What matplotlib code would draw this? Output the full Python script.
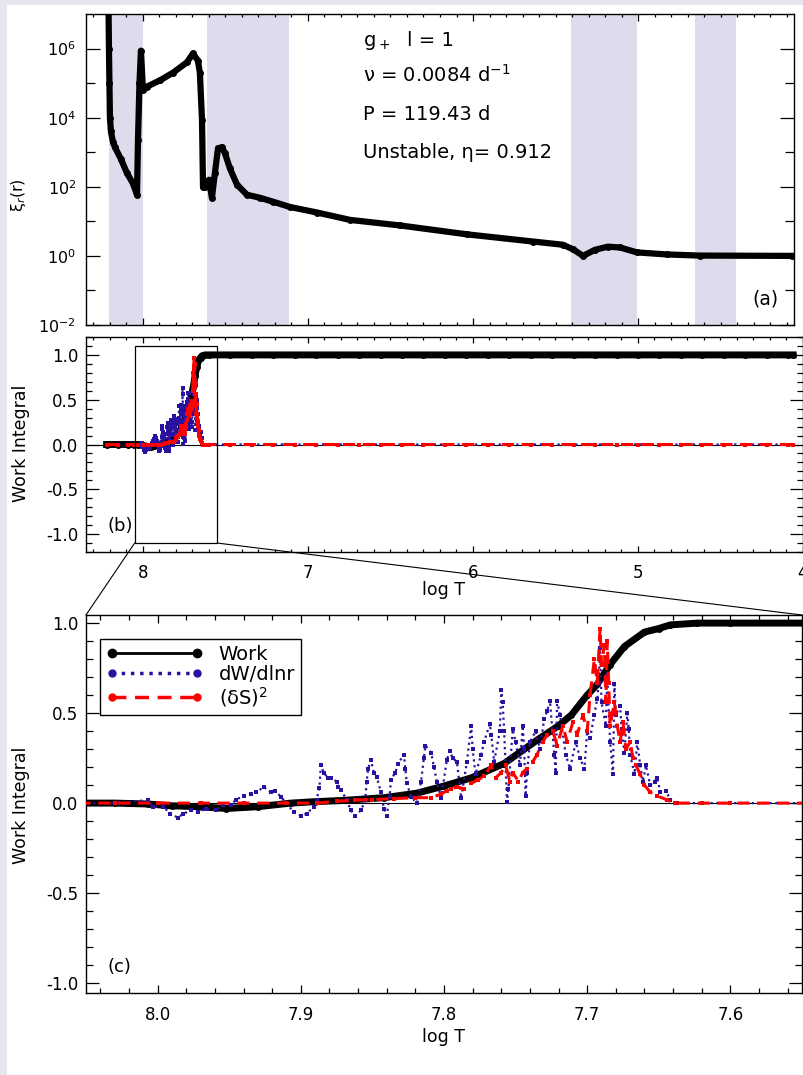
import numpy as np
import matplotlib
matplotlib.use('Agg')
import matplotlib.pyplot as plt
from matplotlib.patches import Rectangle, ConnectionPatch
from matplotlib.lines import Line2D
from matplotlib.ticker import MultipleLocator, FixedLocator, FormatStrFormatter, NullFormatter, FuncFormatter

plt.rcParams['font.family'] = ['DejaVu Sans']
plt.rcParams['axes.unicode_minus'] = False

# ---------------- panel (a): radial displacement ----------------
xi_logT = [8.209, 8.206, 8.203, 8.200, 8.194, 8.182, 8.170, 8.133, 8.097, 8.061,
           8.036, 8.030, 8.021, 8.012, 8.000, 7.976, 7.897, 7.818, 7.733, 7.697,
           7.667, 7.655, 7.642, 7.636, 7.624, 7.600, 7.582, 7.564, 7.545, 7.521,
           7.503, 7.473, 7.430, 7.370, 7.291, 7.212, 7.109, 6.945, 6.745, 6.442,
           6.036, 5.636, 5.455, 5.394, 5.333, 5.261, 5.182, 5.109, 5.006, 4.824,
           4.624, 4.067]
xi_amp = [3.2e7, 1.0e6, 1.0e5, 1.0e4, 4.0e3, 2.0e3, 1.4e3, 6.3e2, 2.5e2, 1.26e2,
          59, 2.2e3, 1.0e5, 8.7e5, 6.3e4, 7.9e4, 1.2e5, 2.0e5, 4.0e5, 7.2e5,
          4.5e5, 2.0e5, 8.5e3, 100, 100, 160, 48, 250, 1.3e3, 1.4e3,
          930, 340, 115, 59, 48, 37, 26, 18, 11, 7.6,
          4.2, 2.6, 2.1, 1.55, 1.0, 1.5, 1.85, 1.75, 1.26, 1.1,
          1.02, 1.0]
bands = [(8.206, 8.000), (7.612, 7.115), (5.406, 5.006), (4.655, 4.406)]
yticks_a = [1e-2, 1e0, 1e2, 1e4, 1e6]
yminor_a = [1e-1, 1e1, 1e3, 1e5]
info_lines = [r'P = 119.43 d', r'Unstable, η= 0.912']

# ---------------- panels (b),(c): work integral ----------------
tail_logT = [7.60, 7.47, 7.34, 7.21, 7.08, 6.95, 6.82, 6.69, 6.56, 6.43,
             6.30, 6.17, 6.04, 5.91, 5.78, 5.65, 5.52, 5.39, 5.26, 5.13,
             5.00, 4.87, 4.74, 4.61, 4.48, 4.35, 4.22, 4.09, 4.06]

work_logT = [8.22, 8.15, 8.09, 8.052, 8.030, 8.007, 7.990, 7.972, 7.952, 7.930,
             7.907, 7.890, 7.870, 7.842, 7.819, 7.800, 7.781, 7.758, 7.735, 7.720,
             7.711, 7.700, 7.693, 7.684, 7.674, 7.660, 7.650, 7.642, 7.623]
work_val = [0.0, 0.0, 0.0, 0.0, 0.0, -0.005, -0.015, -0.02, -0.03, -0.02,
            0.0, 0.008, 0.015, 0.03, 0.055, 0.095, 0.14, 0.22, 0.35, 0.43,
            0.49, 0.60, 0.66, 0.77, 0.87, 0.95, 0.97, 0.99, 1.0]
work_tail = [1.0, 1.0, 1.0, 1.0, 1.0, 1.0, 1.0, 1.0, 1.0, 1.0,
             1.0, 1.0, 1.0, 1.0, 1.0, 1.0, 1.0, 1.0, 1.0, 1.0,
             1.0, 1.0, 1.0, 1.0, 1.0, 1.0, 1.0, 1.0, 1.0]

dw_logT = [8.22, 8.15, 8.09, 8.052, 8.028, 8.007, 8.003, 7.996, 7.991, 7.986,
           7.982, 7.977, 7.972, 7.966, 7.959, 7.954, 7.949, 7.945, 7.940, 7.935,
           7.931, 7.926, 7.921, 7.918, 7.914, 7.910, 7.905, 7.900, 7.896, 7.891,
           7.889, 7.887, 7.886, 7.884, 7.881, 7.879, 7.875, 7.874, 7.872, 7.868,
           7.865, 7.862, 7.858, 7.855, 7.854, 7.853, 7.851, 7.849, 7.847, 7.844,
           7.842, 7.840, 7.838, 7.837, 7.834, 7.832, 7.828, 7.827, 7.826, 7.823,
           7.819, 7.816, 7.814, 7.813, 7.809, 7.807, 7.805, 7.802, 7.798, 7.796,
           7.794, 7.791, 7.788, 7.784, 7.781, 7.780, 7.778, 7.774, 7.772, 7.768,
           7.767, 7.765, 7.761, 7.760, 7.759, 7.758, 7.756, 7.755, 7.752, 7.750,
           7.747, 7.745, 7.744, 7.743, 7.742, 7.740, 7.736, 7.733, 7.730, 7.728,
           7.726, 7.723, 7.722, 7.721, 7.719, 7.715, 7.712, 7.708, 7.705, 7.702,
           7.700, 7.698, 7.695, 7.693, 7.692, 7.691, 7.690, 7.687, 7.686, 7.684,
           7.682, 7.681, 7.680, 7.677, 7.676, 7.674, 7.672, 7.671, 7.670, 7.667,
           7.665, 7.663, 7.661, 7.659, 7.656, 7.653, 7.651, 7.649, 7.645, 7.642,
           7.637, 7.620]
dw_val = [0.0, 0.0, 0.0, 0.0, 0.0, 0.017, -0.02, -0.02, -0.06, -0.08,
          -0.06, -0.04, -0.05, -0.03, -0.04, -0.01, -0.01, 0.02, 0.04, 0.05,
          0.06, 0.09, 0.06, 0.07, 0.035, 0.0, -0.05, -0.07, -0.06, -0.02,
          0.017, 0.085, 0.21, 0.17, 0.14, 0.14, 0.12, 0.09, 0.075, 0.017,
          -0.04, -0.07, -0.04, 0.017, 0.12, 0.19, 0.24, 0.17, 0.145, 0.06,
          -0.03, -0.07, 0.035, 0.13, 0.17, 0.22, 0.27, 0.19, 0.11, 0.035,
          0.0, 0.12, 0.25, 0.32, 0.28, 0.20, 0.12, 0.03, 0.24, 0.29,
          0.25, 0.23, 0.027, 0.23, 0.43, 0.30, 0.16, 0.27, 0.34, 0.44,
          0.38, 0.23, 0.40, 0.63, 0.56, 0.40, 0.007, 0.08, 0.41, 0.34,
          0.21, 0.43, 0.30, 0.04, 0.17, 0.34, 0.40, 0.30, 0.47, 0.51,
          0.57, 0.27, 0.17, 0.57, 0.49, 0.27, 0.19, 0.34, 0.25, 0.19,
          0.40, 0.36, 0.49, 0.58, 0.67, 0.86, 0.56, 0.43, 0.71, 0.34,
          0.16, 0.66, 0.49, 0.54, 0.41, 0.28, 0.50, 0.41, 0.27, 0.16,
          0.34, 0.21, 0.12, 0.21, 0.10, 0.12, 0.14, 0.06, 0.07, 0.017,
          0.0, 0.0]

ds_logT = [8.22, 8.15, 8.09, 8.052, 8.030, 8.000, 7.970, 7.940, 7.910, 7.889,
           7.875, 7.862, 7.850, 7.835, 7.820, 7.809, 7.802, 7.798, 7.795, 7.791,
           7.786, 7.781, 7.776, 7.772, 7.767, 7.764, 7.760, 7.757, 7.754, 7.752,
           7.748, 7.745, 7.742, 7.738, 7.735, 7.731, 7.728, 7.724, 7.721, 7.717,
           7.714, 7.710, 7.707, 7.703, 7.700, 7.698, 7.695, 7.693, 7.691, 7.690,
           7.688, 7.687, 7.686, 7.685, 7.684, 7.681, 7.679, 7.677, 7.675, 7.673,
           7.670, 7.668, 7.666, 7.663, 7.660, 7.656, 7.651, 7.644, 7.639, 7.620]
ds_val = [0.0, 0.0, 0.0, 0.0, 0.0, 0.0, 0.0, 0.0, 0.0, 0.0,
          0.01, 0.017, 0.02, 0.025, 0.03, 0.03, 0.05, 0.07, 0.08, 0.09,
          0.08, 0.11, 0.13, 0.15, 0.21, 0.14, 0.17, 0.21, 0.12, 0.17,
          0.12, 0.17, 0.19, 0.23, 0.27, 0.34, 0.38, 0.40, 0.32, 0.43,
          0.34, 0.45, 0.38, 0.49, 0.40, 0.60, 0.80, 0.67, 0.97, 0.77,
          0.88, 0.56, 0.90, 0.67, 0.43, 0.56, 0.43, 0.34, 0.45, 0.30,
          0.34, 0.25, 0.21, 0.16, 0.10, 0.06, 0.04, 0.017, 0.0, 0.0]
zero_tail = [0.0, 0.0, 0.0, 0.0, 0.0, 0.0, 0.0, 0.0, 0.0, 0.0,
             0.0, 0.0, 0.0, 0.0, 0.0, 0.0, 0.0, 0.0, 0.0, 0.0,
             0.0, 0.0, 0.0, 0.0, 0.0, 0.0, 0.0, 0.0, 0.0]

legend_labels = ['Work', 'dW/dlnr', r'(δS)$^2$']
zoom_box = (8.05, 7.55, -1.1, 1.1)

# ---------------- styling ----------------
BLUE = '#2a12a0'
RED = '#ff0000'
SHADE = '#dcdcec'
W, H = 804, 1075


def box(l, t, r, b):
    return [l / W, 1 - b / H, (r - l) / W, (b - t) / H]


fig = plt.figure(figsize=(W / 100, H / 100), dpi=100, facecolor='#e8e4f0')
fig.add_artist(Rectangle((7.5 / W, 0), 1, 1 - 5 / H, transform=fig.transFigure,
                         facecolor='white', edgecolor='none', zorder=-10))

axa = fig.add_axes(box(86, 14, 794, 325))
axb = fig.add_axes(box(86, 337, 803, 552))
axc = fig.add_axes(box(86, 615, 802, 993))

for ax in (axa, axb, axc):
    for s in ax.spines.values():
        s.set_linewidth(1.0)

# ---- (a)
for x0, x1 in bands:
    axa.axvspan(x1, x0, color=SHADE, lw=0, zorder=0)
axa.plot(xi_logT, xi_amp, color='k', lw=4.5, marker='o', ms=5, mew=0, zorder=3)
axa.set_yscale('log')
axa.set_ylim(1e-2, 1e7)
axa.set_xlim(8.345, 4.055)
axa.yaxis.set_major_locator(FixedLocator(yticks_a))
axa.yaxis.set_minor_locator(FixedLocator(yminor_a))
axa.yaxis.set_major_formatter(FuncFormatter(lambda v, p: r'$10^{%d}$' % round(np.log10(v))))
axa.yaxis.set_minor_formatter(NullFormatter())
axa.xaxis.set_major_locator(MultipleLocator(1))
axa.xaxis.set_minor_locator(MultipleLocator(0.1))
axa.tick_params(which='both', direction='in', top=True, right=True, labelbottom=False)
axa.tick_params(axis='y', which='major', length=10, width=0.9, labelsize=11.5, pad=7)
axa.tick_params(axis='y', which='minor', length=6.5, width=0.9)
axa.tick_params(axis='x', which='major', length=5, width=0.9)
axa.tick_params(axis='x', which='minor', length=2.5, width=0.9)

fs_info = 14
fig.text(363 / W, 1 - 46 / H, r'g$_+$', fontsize=fs_info, va='baseline')
fig.text(407 / W, 1 - 46 / H, 'l = 1', fontsize=fs_info, va='baseline')
fig.text(363 / W, 1 - 82 / H, r'ν = 0.0084 d$^{-1}$', fontsize=fs_info, va='baseline')
fig.text(363 / W, 1 - 120 / H, info_lines[0], fontsize=fs_info, va='baseline')
fig.text(363 / W, 1 - 158 / H, info_lines[1], fontsize=fs_info, va='baseline')
fig.text(765 / W, 1 - 299 / H, '(a)', fontsize=13.5, ha='center', va='center')
fig.text(19 / W, 1 - 195 / H, r'ξ$_r$(r)', fontsize=11.5, rotation=90, ha='center', va='center')


def draw_work(ax, lw_k, ms_k):
    ax.axhline(0, color='k', lw=0.8, zorder=1)
    ax.plot(work_logT + tail_logT, work_val + work_tail, color='k', lw=lw_k,
            marker='o', ms=ms_k, mew=0, zorder=3)
    ax.plot(dw_logT + tail_logT, dw_val + zero_tail, color=BLUE, ls=':', lw=1.6,
            marker='s', ms=2.6, mew=0, zorder=4)
    ax.plot(ds_logT + tail_logT, ds_val + zero_tail, color=RED, ls=(0, (4, 2.5)), lw=2.2,
            marker='s', ms=2.6, mew=0, zorder=5)


# ---- (b)
draw_work(axb, 5, 5)
axb.set_xlim(8.345, 4.0)
axb.set_ylim(-1.2, 1.2)
axb.xaxis.set_major_locator(MultipleLocator(1))
axb.xaxis.set_minor_locator(MultipleLocator(0.1))
axb.xaxis.set_major_formatter(FormatStrFormatter('%d'))
axb.yaxis.set_major_locator(MultipleLocator(0.5))
axb.yaxis.set_minor_locator(MultipleLocator(0.1))
axb.yaxis.set_major_formatter(FormatStrFormatter('%.1f'))
axb.tick_params(which='both', direction='in', top=True, right=True)
axb.tick_params(axis='y', which='major', length=9.5, width=0.9, labelsize=12, pad=5.5)
axb.tick_params(axis='y', which='minor', length=4.5, width=0.9)
axb.tick_params(axis='x', which='major', length=4.5, width=0.9, labelsize=12, pad=8.5)
axb.tick_params(axis='x', which='minor', length=2.5, width=0.9)
x0, x1, y0, y1 = zoom_box
axb.add_patch(Rectangle((x1, y0), x0 - x1, y1 - y0, fill=False, ec='k', lw=0.9, zorder=6))
fig.text(120 / W, 1 - 526 / H, '(b)', fontsize=13, ha='center', va='center')
fig.text(21 / W, 1 - 443 / H, 'Work Integral', fontsize=12.5, rotation=90, ha='center', va='center')
fig.text(444 / W, 1 - 590 / H, 'log T', fontsize=12.5, ha='center', va='center')

# ---- (c)
draw_work(axc, 5, 5)
axc.set_xlim(8.05, 7.55)
axc.set_ylim(-1.055, 1.045)
axc.xaxis.set_major_locator(MultipleLocator(0.1))
axc.xaxis.set_minor_locator(MultipleLocator(0.02))
axc.xaxis.set_major_formatter(FormatStrFormatter('%.1f'))
axc.yaxis.set_major_locator(MultipleLocator(0.5))
axc.yaxis.set_minor_locator(MultipleLocator(0.1))
axc.yaxis.set_major_formatter(FormatStrFormatter('%.1f'))
axc.tick_params(which='both', direction='in', top=True, right=True)
axc.tick_params(axis='y', which='major', length=9.5, width=0.9, labelsize=12, pad=5.5)
axc.tick_params(axis='y', which='minor', length=5, width=0.9)
axc.tick_params(axis='x', which='major', length=5.8, width=0.9, labelsize=12, pad=9)
axc.tick_params(axis='x', which='minor', length=3.5, width=0.9)
fig.text(119 / W, 1 - 967 / H, '(c)', fontsize=13, ha='center', va='center')
fig.text(21 / W, 1 - 805 / H, 'Work Integral', fontsize=12.5, rotation=90, ha='center', va='center')
fig.text(444 / W, 1 - 1037 / H, 'log T', fontsize=12.5, ha='center', va='center')

handles = [Line2D([], [], color='k', lw=2, marker='o', ms=6),
           Line2D([], [], color=BLUE, ls=':', lw=2.5, marker='o', ms=5),
           Line2D([], [], color=RED, ls=(0, (4, 2.5)), lw=2.5, marker='o', ms=5)]
leg = axc.legend(handles, legend_labels, loc='upper left',
                 bbox_to_anchor=((100 - 86) / 716, 1 - (639 - 615) / 378),
                 borderaxespad=0, numpoints=2, fontsize=14, frameon=True,
                 fancybox=False, edgecolor='k', framealpha=1, borderpad=0.3,
                 handlelength=5.0, handletextpad=0.8, labelspacing=0.05)
leg.get_frame().set_linewidth(1.0)

# connecting lines from zoom box to panel (c)
for xa, xb in ((x0, 0), (x1, 1)):
    con = ConnectionPatch(xyA=(xa, y0), coordsA=axb.transData,
                          xyB=(xb, 1), coordsB=axc.transAxes,
                          color='k', lw=0.8)
    fig.add_artist(con)

fig.savefig('out.png', dpi=100, facecolor=fig.get_facecolor())
